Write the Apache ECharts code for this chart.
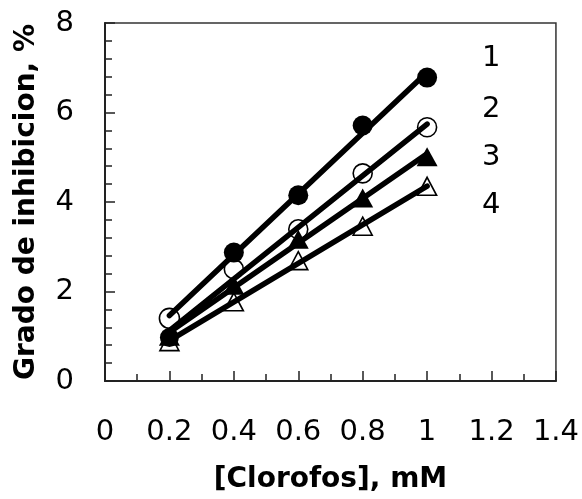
<!DOCTYPE html>
<html>
<head>
<meta charset="utf-8">
<script src="https://cdn.jsdelivr.net/npm/echarts@6/dist/echarts.min.js"></script>
<style>
  html, body { margin: 0; padding: 0; background: #fff; }
  #chart { width: 582px; height: 499px; }
</style>
</head>
<body>
<div id="chart"></div>
<script>
// Chlorophos concentration (mM) and inhibition degree (%) for the four curves
const concentrations = [0.2, 0.4, 0.6, 0.8, 1.0];
const curve1 = [1.4, 2.87, 4.15, 5.71, 6.78];  // circles (first point drawn open)
const curve2 = [0.97, 2.5, 3.39, 4.64, 5.67];  // open circles (first point drawn filled)
const curve3 = [1.0, 2.14, 3.17, 4.09, 5.01];  // filled triangles
const curve4 = [0.88, 1.77, 2.69, 3.46, 4.35]; // open triangles
const curveNames = ['1', '2', '3', '4'];

const FONT = 'DejaVu Sans';

// Least-squares straight line over the measured range
function trend(ys) {
  const n = concentrations.length;
  const mx = concentrations.reduce((s, v) => s + v, 0) / n;
  const my = ys.reduce((s, v) => s + v, 0) / n;
  let sxy = 0, sxx = 0;
  concentrations.forEach((x, i) => { sxy += (x - mx) * (ys[i] - my); sxx += (x - mx) * (x - mx); });
  const b = sxy / sxx, a = my - b * mx;
  const x0 = Math.min(...concentrations), x1 = Math.max(...concentrations);
  return [[x0, a + b * x0], [x1, a + b * x1]];
}

const FILLED = { color: '#000', borderColor: '#000', borderWidth: 0, opacity: 1 };
const OPEN = { color: 'rgba(255,255,255,0)', borderColor: '#000', borderWidth: 1.6, opacity: 1 };

function markerSeries(name, ys, symbol, size, filled, swapFirst) {
  return {
    name: name,
    type: 'scatter',
    symbol: symbol,
    symbolSize: size,
    itemStyle: filled ? FILLED : OPEN,
    data: concentrations.map((x, i) => {
      if (i === 0 && swapFirst) return { value: [x, ys[i]], itemStyle: filled ? OPEN : FILLED };
      return [x, ys[i]];
    }),
    emphasis: { disabled: true },
    z: 3
  };
}

function trendSeries(name, ys) {
  return {
    name: name,
    type: 'line',
    data: trend(ys),
    symbol: 'none',
    lineStyle: { color: '#000', width: 5.5, cap: 'round' },
    emphasis: { disabled: true },
    z: 2
  };
}

const chart = echarts.init(document.getElementById('chart'), null, { renderer: 'canvas' });

const labelYs = [59, 110, 158, 206];

chart.setOption({
  backgroundColor: '#fff',
  animation: false,
  grid: {
    left: 105, right: 25, top: 23, bottom: 114,
    show: true, borderColor: '#333', borderWidth: 1.5, backgroundColor: 'transparent'
  },
  xAxis: {
    type: 'value',
    min: 0, max: 1.4, interval: 0.2,
    name: '[Clorofos], mM',
    nameLocation: 'middle',
    nameGap: 85,
    nameTextStyle: { fontFamily: FONT, fontWeight: 'bold', fontSize: 28, color: '#000' },
    axisLine: { show: true, onZero: false, lineStyle: { color: '#222', width: 2 } },
    axisTick: { show: true, inside: true, length: 10, lineStyle: { color: '#222', width: 1.5 } },
    minorTick: { show: true, splitNumber: 2, length: 7, lineStyle: { color: '#222', width: 1.5 } },
    splitLine: { show: false },
    axisLabel: { fontFamily: FONT, fontSize: 29, color: '#000', margin: 37 }
  },
  yAxis: {
    type: 'value',
    min: 0, max: 8, interval: 2,
    name: 'Grado de inhibicion, %',
    nameLocation: 'middle',
    nameGap: 64,
    nameTextStyle: { fontFamily: FONT, fontWeight: 'bold', fontSize: 28, color: '#000' },
    axisLine: { show: true, onZero: false, lineStyle: { color: '#222', width: 2 } },
    axisTick: { show: true, inside: true, length: 10, lineStyle: { color: '#222', width: 1.5 } },
    minorTick: { show: true, splitNumber: 5, length: 7, lineStyle: { color: '#222', width: 1.5 } },
    splitLine: { show: false },
    axisLabel: { fontFamily: FONT, fontSize: 29, color: '#000', margin: 31 }
  },
  graphic: curveNames.map((t, i) => ({
    type: 'text',
    left: 482,
    top: labelYs[i] - 15,
    style: { text: t, fontFamily: FONT, fontSize: 29, fill: '#000' }
  })),
  series: [
    trendSeries(curveNames[0], curve1),
    trendSeries(curveNames[1], curve2),
    trendSeries(curveNames[2], curve3),
    trendSeries(curveNames[3], curve4),
    markerSeries(curveNames[0], curve1, 'circle', 20, true, true),
    markerSeries(curveNames[1], curve2, 'circle', 19, false, true),
    markerSeries(curveNames[2], curve3, 'triangle', [21, 19], true, false),
    markerSeries(curveNames[3], curve4, 'triangle', [19, 18], false, false)
  ]
});
</script>
</body>
</html>
